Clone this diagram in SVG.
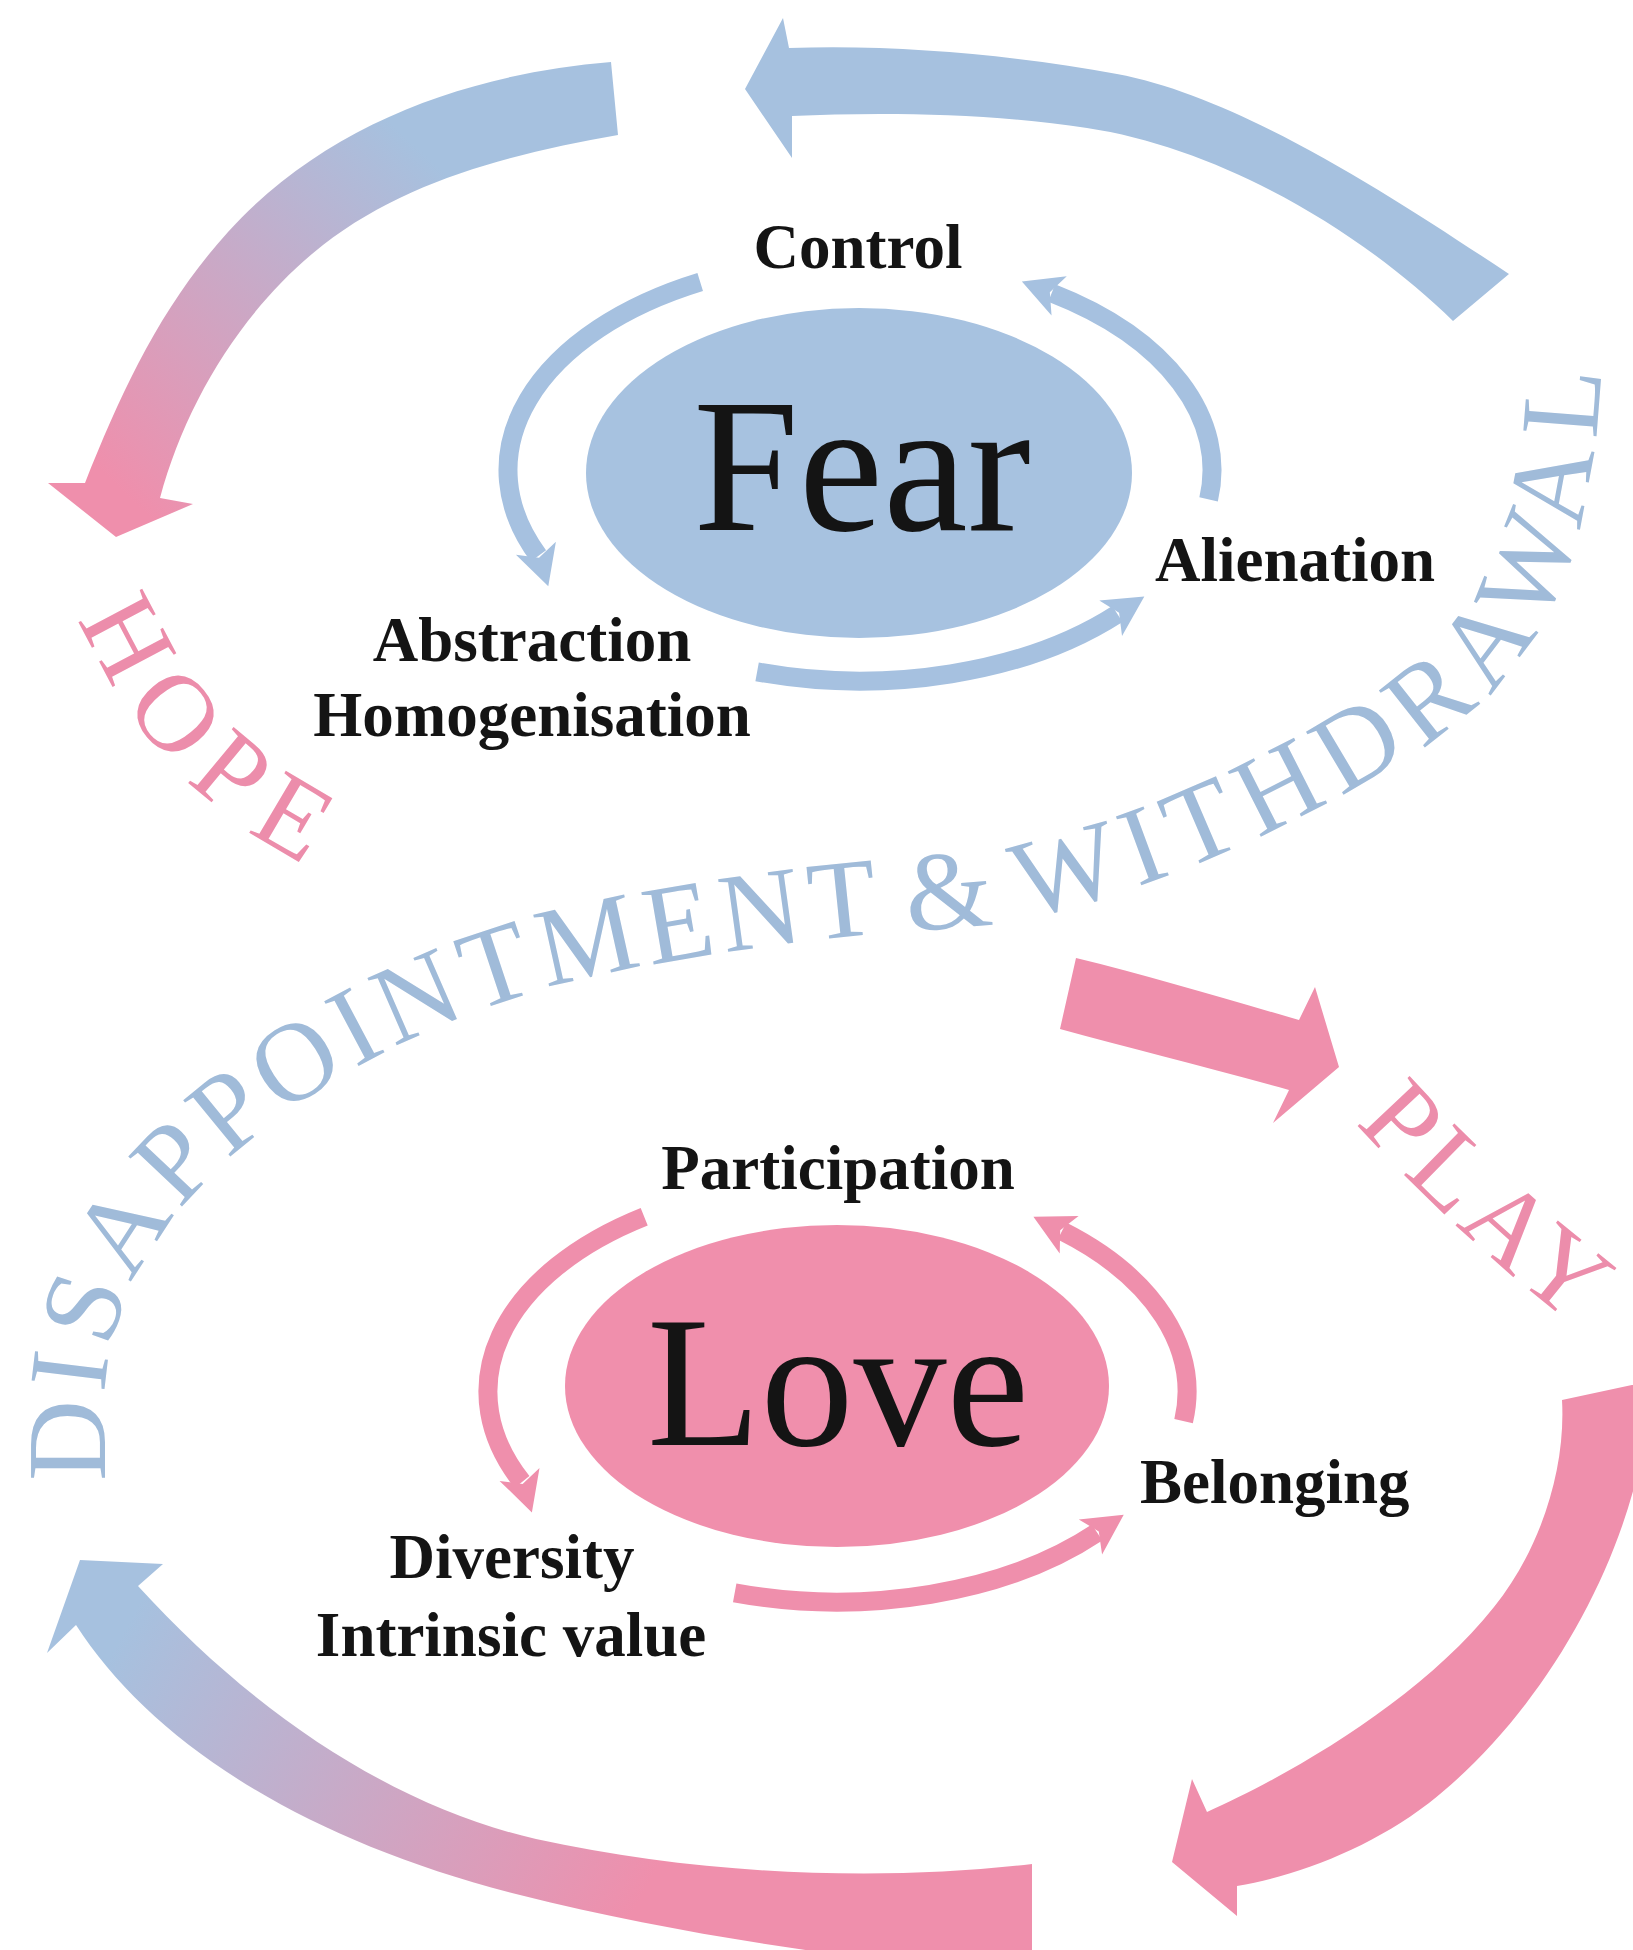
<svg xmlns="http://www.w3.org/2000/svg" width="1633" height="1950" viewBox="0 0 1633 1950">
<defs>
<style>
.lbl{font-family:"Liberation Serif","DejaVu Serif",serif;font-weight:bold;font-size:63px;fill:#141414}
.big{font-family:"Liberation Serif","DejaVu Serif",serif;fill:#141414;text-anchor:middle}
.curvB{font-family:"Liberation Serif","DejaVu Serif",serif;font-size:112px;fill:#a0bbd9}
.curvP{font-family:"Liberation Serif","DejaVu Serif",serif;font-size:110px;fill:#ec8dab}
.arcB{fill:none;stroke:#a6c1e0;stroke-width:19}
.arcP{fill:none;stroke:#ef8fac;stroke-width:19}
</style>
<linearGradient id="gTL" gradientUnits="userSpaceOnUse" x1="420" y1="150" x2="110" y2="480">
<stop offset="0" stop-color="#a6c1df"/><stop offset="1" stop-color="#ef8fac"/>
</linearGradient>
<linearGradient id="gBL" gradientUnits="userSpaceOnUse" x1="130" y1="1620" x2="640" y2="1900">
<stop offset="0" stop-color="#a6c1df"/><stop offset="1" stop-color="#ef8fac"/>
</linearGradient>
<marker id="ahB" markerUnits="userSpaceOnUse" markerWidth="80" markerHeight="80" viewBox="-40 -40 80 80" refX="0" refY="0" orient="auto" overflow="visible">
<path d="M32,0 L-8,-21 L2,0 L-8,21 Z" fill="#a6c1e0"/>
</marker>
<marker id="ahP" markerUnits="userSpaceOnUse" markerWidth="80" markerHeight="80" viewBox="-40 -40 80 80" refX="0" refY="0" orient="auto" overflow="visible">
<path d="M32,0 L-8,-21 L2,0 L-8,21 Z" fill="#ef8fac"/>
</marker>
<marker id="ahBd" markerUnits="userSpaceOnUse" markerWidth="80" markerHeight="80" viewBox="-40 -40 80 80" refX="0" refY="0" orient="72" overflow="visible">
<path d="M32,0 L-8,-21 L2,0 L-8,21 Z" fill="#a6c1e0"/>
</marker>
<marker id="ahPd" markerUnits="userSpaceOnUse" markerWidth="80" markerHeight="80" viewBox="-40 -40 80 80" refX="0" refY="0" orient="72" overflow="visible">
<path d="M32,0 L-8,-21 L2,0 L-8,21 Z" fill="#ef8fac"/>
</marker>
<path id="pDis" d="M105,1490 L105,1400 C105,1200 350,1030 600,975 C750,945 850,935 950,928 C1100,918 1300,830 1440,735 C1560,650 1601,520 1603,310"/>
<path id="pHope" d="M70,595 Q140,790 335,880"/>
<path id="pPlay" d="M1326,1090 Q1456,1240 1606,1350"/>
</defs>
<rect x="0" y="0" width="1633" height="1950" fill="#ffffff"/>

<g id="connectors">
<path id="arrow-hope" d="M611,62 C466,74 325,125 228,232 C161,306 122,390 85,483 L48,483 L116,537 L193,504 L160,498 C186,401 244,307 323,245 C406,180 515,153 618,135 Z" fill="url(#gTL)"/>
<path id="arrow-withdrawal" d="M745,89 L783,18 L789,48 C900,44 1020,56 1117,74 C1240,97 1390,195 1509,274 L1453,321 C1360,230 1220,148 1087,128 C990,113 880,112 792,116 L792,158 Z" fill="#a6c1df"/>
<path id="arrow-play" d="M1076,958 C1150,976 1230,1000 1299,1020 L1315,987 L1339,1067 L1273,1123 L1289,1090 C1210,1068 1130,1048 1060,1029 Z" fill="#ef8fac"/>
<path id="arrow-love-right" d="M1562,1400 L1650,1381 C1648,1520 1560,1700 1429,1803 C1370,1848 1300,1875 1237,1886 L1237,1916 L1172,1862 L1192,1779 L1207,1812 C1290,1775 1420,1700 1494,1607 C1540,1550 1566,1470 1562,1400 Z" fill="#ef8fac"/>
<path id="arrow-disappointment" d="M80,1560 L163,1564 L138,1586 C260,1720 400,1808 536,1839 C700,1875 880,1882 1032,1864 L1032,1975 L880,1975 L880,1960 C760,1945 640,1925 520,1895 C300,1840 150,1740 76,1625 L47,1653 Z" fill="url(#gBL)"/>
<path id="fear-control-abstraction" class="arcB" marker-end="url(#ahBd)" d="M700.2,282 A352 211 0 0 0 538.4,555.8"/>
<path id="fear-abstraction-alienation" class="arcB" marker-end="url(#ahB)" d="M757.1,671.8 A352 211 0 0 0 1117.4,613.9"/>
<path id="fear-alienation-control" class="arcB" marker-end="url(#ahB)" d="M1208.6,499.4 A352 211 0 0 0 1051.7,293"/>
<path id="love-participation-diversity" class="arcP" marker-end="url(#ahPd)" d="M644.2,1216.7 A350 210 0 0 0 522,1482"/>
<path id="love-diversity-belonging" class="arcP" marker-end="url(#ahP)" d="M734.7,1592.8 A350 210 0 0 0 1097.1,1532.5"/>
<path id="love-belonging-participation" class="arcP" marker-end="url(#ahP)" d="M1183.6,1421.2 A350 210 0 0 0 1062,1231.1"/>
</g>

<g id="node-fear">
<ellipse cx="859" cy="473" rx="273" ry="165" fill="#a7c2e0"/>
<text class="big" x="862" y="530" font-size="190">Fear</text>
</g>
<g id="node-love">
<ellipse cx="837" cy="1386" rx="272" ry="161" fill="#f08fac"/>
<text class="big" x="838" y="1445" font-size="186">Love</text>
</g>

<g id="node-control"><text class="lbl" x="858" y="268" text-anchor="middle">Control</text></g>
<g id="node-alienation"><text class="lbl" x="1155" y="581">Alienation</text></g>
<g id="node-abstraction"><text class="lbl" x="532" y="661" text-anchor="middle">Abstraction</text><text class="lbl" x="532" y="736" text-anchor="middle">Homogenisation</text></g>
<g id="node-participation"><text class="lbl" x="838" y="1189" text-anchor="middle">Participation</text></g>
<g id="node-belonging"><text class="lbl" x="1140" y="1503">Belonging</text></g>
<g id="node-diversity"><text class="lbl" x="512" y="1578" text-anchor="middle">Diversity</text><text class="lbl" x="511" y="1656" text-anchor="middle">Intrinsic value</text></g>

<g id="label-disappointment"><text class="curvB" letter-spacing="7" word-spacing="-12"><textPath href="#pDis" startOffset="9">DISAPPOINTMENT &amp; <tspan letter-spacing="12">WITHDRAWAL</tspan></textPath></text></g>
<g id="label-hope"><text class="curvP" letter-spacing="18"><textPath href="#pHope" startOffset="25">HOPE</textPath></text></g>
<g id="label-play"><text class="curvP" letter-spacing="7"><textPath href="#pPlay" startOffset="44">PLAY</textPath></text></g>
</svg>
